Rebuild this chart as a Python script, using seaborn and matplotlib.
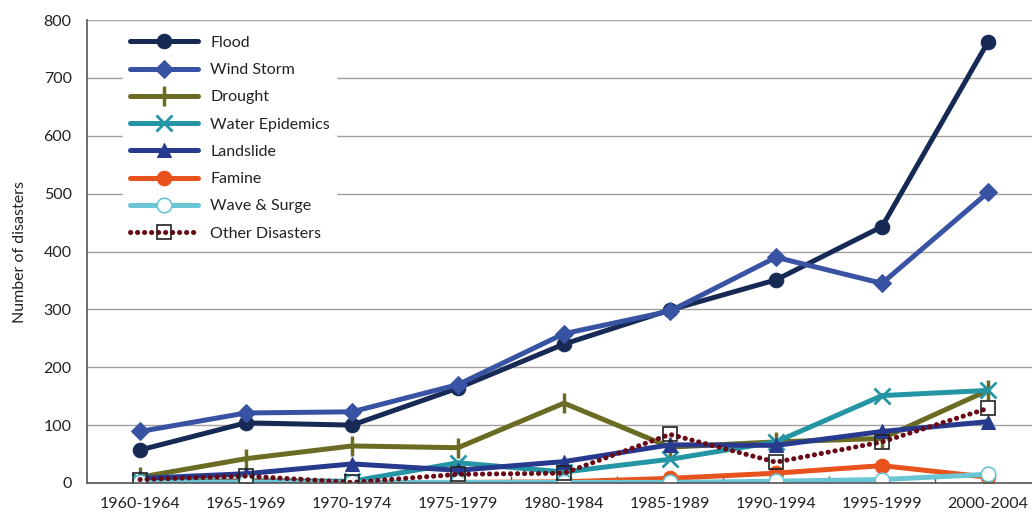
import matplotlib
matplotlib.use("Agg")
import matplotlib.pyplot as plt
import seaborn as sns
import pandas as pd
import numpy as np
from matplotlib.ticker import MultipleLocator, FixedLocator

periods = ["1960-1964", "1965-1969", "1970-1974", "1975-1979", "1980-1984",
           "1985-1989", "1990-1994", "1995-1999", "2000-2004"]

flood = [57, 104, 100, 164, 240, 299, 351, 443, 762]
wind_storm = [89, 121, 123, 170, 258, 297, 390, 345, 502]
drought = [10, 42, 64, 61, 138, 62, 71, 77, 160]
water_epidemics = [3, 4, 3, 35, 19, 41, 71, 151, 160]
landslide = [8, 16, 33, 22, 37, 66, 65, 89, 106]
famine = [0, 2, 0, 1, 2, 8, 17, 30, 10]
wave_surge = [1, 1, 1, 1, 1, 1, 3, 6, 15]
other_disasters = [6, 12, 1, 15, 17, 84, 36, 71, 129]

series = [
    ("Flood", flood, dict(color="#172a55", marker="o", markersize=10.5, ls="-")),
    ("Wind Storm", wind_storm, dict(color="#3953a4", marker="D", markersize=9, ls="-")),
    ("Drought", drought, dict(color="#6b6c24", marker="|", markersize=14, markeredgewidth=2.5, ls="-")),
    ("Water Epidemics", water_epidemics, dict(color="#2495a4", marker="x", markersize=11, markeredgewidth=2, ls="-")),
    ("Landslide", landslide, dict(color="#273a8e", marker="^", markersize=10, ls="-")),
    ("Famine", famine, dict(color="#e8521d", marker="o", markersize=10.5, ls="-")),
    ("Wave & Surge", wave_surge, dict(color="#6ac5d4", marker="o", markersize=10.5,
                                      markerfacecolor="white", markeredgewidth=1.2, ls="-")),
    ("Other Disasters", other_disasters, dict(color="#6a0a16", marker="s", markersize=10,
                                              markerfacecolor="none", markeredgecolor="#222222",
                                              markeredgewidth=1.2, ls=(0, (0.05, 1.35)),
                                              dash_capstyle="round")),
]

sns.set_theme(style="white")
plt.rcParams["font.family"] = ["Lato", "DejaVu Sans"]

fig = plt.figure(figsize=(10.32, 5.24), dpi=100)
ax = fig.add_axes([87 / 1032, 1 - 483 / 524, (1041 - 87) / 1032, (483 - 20) / 524])

x = np.arange(len(periods))
for name, values, style in series:
    df = pd.DataFrame({"period": x, "value": values})
    ls = style.pop("ls")
    sns.lineplot(data=df, x="period", y="value", ax=ax, label=name,
                 linewidth=3.6, linestyle=ls,
                 markeredgecolor=style.pop("markeredgecolor", style["color"]),
                 **style)

ax.set_xlim(-0.5, 8.5)
ax.set_ylim(0, 800)
ax.yaxis.set_major_locator(MultipleLocator(100))
ax.grid(axis="y", color="#a0a0a0", linewidth=1)
ax.set_axisbelow(True)
ax.set_xticks(x)
ax.set_xticklabels(periods)
ax.xaxis.set_minor_locator(FixedLocator(np.arange(0.5, 8.5, 1)))
ax.tick_params(axis="x", which="major", length=0, pad=10, labelsize=11.5, colors="#222222")
ax.tick_params(axis="x", which="minor", direction="in", length=5, width=1, color="#555555", bottom=True)
ax.tick_params(axis="y", length=0, pad=11, labelsize=11.5, colors="#222222")
ax.set_xlabel("")
ax.set_ylabel("Number of disasters", fontsize=11.5, color="#222222", labelpad=12)

for side in ["top", "right"]:
    ax.spines[side].set_visible(False)
for side in ["left", "bottom"]:
    ax.spines[side].set_color("#555555")
    ax.spines[side].set_linewidth(1.2)

leg = ax.legend(loc="upper left", bbox_to_anchor=(0.038, 0.98), frameon=True, fontsize=11.5,
                handlelength=4.25, handletextpad=0.8, labelspacing=0.82, borderpad=0.4,
                borderaxespad=0)
leg.get_frame().set_facecolor("white")
leg.get_frame().set_edgecolor("white")
leg.get_frame().set_alpha(1)
for t in leg.get_texts():
    t.set_color("#222222")

fig.savefig("out.png", dpi=100)
